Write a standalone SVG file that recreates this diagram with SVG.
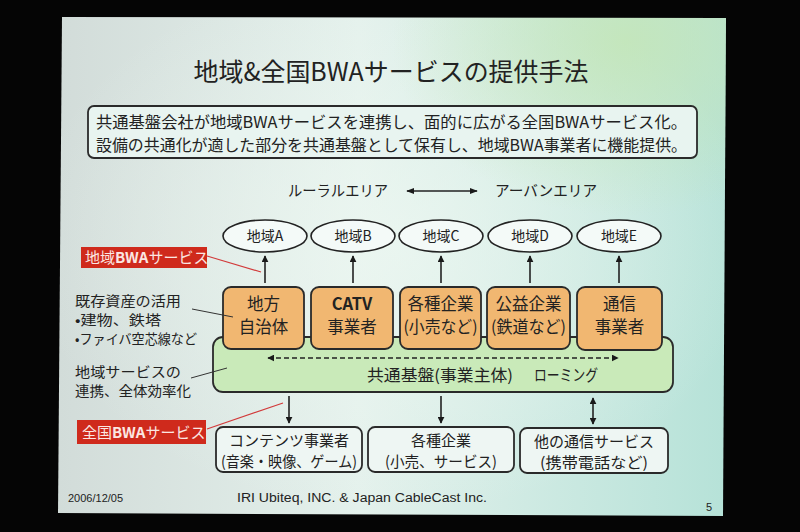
<svg xmlns="http://www.w3.org/2000/svg" width="800" height="532" viewBox="0 0 800 532">
<defs>
<linearGradient id="bg" x1="0" y1="0" x2="1" y2="0">
<stop offset="0" stop-color="#d2dcd9"/>
<stop offset="0.45" stop-color="#e4f1ec"/>
<stop offset="1" stop-color="#b6e2d8"/>
</linearGradient>
<radialGradient id="glow" cx="0.5" cy="0.45" r="0.55">
<stop offset="0" stop-color="#eef8f2" stop-opacity="0.7"/>
<stop offset="1" stop-color="#eef8f2" stop-opacity="0"/>
</radialGradient>
<radialGradient id="tr" cx="0.85" cy="0.05" r="0.35">
<stop offset="0" stop-color="#c4e6b4" stop-opacity="0.8"/>
<stop offset="1" stop-color="#c4e6b4" stop-opacity="0"/>
</radialGradient>
<marker id="ah" viewBox="0 0 10 10" refX="9" refY="5" markerWidth="7" markerHeight="7" orient="auto-start-reverse" markerUnits="userSpaceOnUse">
<path d="M0,0 L10,5 L0,10 z" fill="#1a1a1a"/>
</marker>
<marker id="ahs" viewBox="0 0 10 10" refX="9" refY="5" markerWidth="8" markerHeight="8" orient="auto-start-reverse" markerUnits="userSpaceOnUse">
<path d="M0,1 L10,5 L0,9 z" fill="#1a1a1a"/>
</marker>
<style>
text{font-family:"Noto Sans CJK JP","Noto Sans",sans-serif;fill:#222;}
.c{text-anchor:middle;}
.box{stroke:#2a2a2a;stroke-width:1.8;}
.org{fill:#f1b771;}
.wht{fill:#eef6f3;}
.ell{fill:#f4faf8;stroke:#222;stroke-width:1.6;}
.red{fill:#cf2a1c;}
.rt{fill:#fbe6e2;font-size:15px;}
.ln{stroke:#222;stroke-width:1.6;fill:none;}
.pl{stroke:#333;stroke-width:1;fill:none;}
.rl{stroke:#d23a3a;stroke-width:1.2;fill:none;}
.ot{font-size:16.5px;}
.bt{font-size:15px;}
.lt{font-size:13.5px;}
.ft{font-family:"Liberation Sans",sans-serif;}
</style>
</defs>
<rect width="800" height="532" fill="#050505"/>
<polygon points="62,17 726,18 723,516 58,513" fill="url(#bg)"/>
<polygon points="62,17 726,18 723,516 58,513" fill="url(#glow)"/>
<polygon points="62,17 726,18 723,516 58,513" fill="url(#tr)"/>

<g id="title">
<text x="391" y="81" class="c" font-size="25" textLength="395" lengthAdjust="spacingAndGlyphs">地域&amp;全国BWAサービスの提供手法</text>
</g>

<g id="summary">
<rect x="88" y="106" width="609" height="52" rx="6" class="box" fill="#e8f4f0"/>
<text x="96" y="128" font-size="16" textLength="591" lengthAdjust="spacingAndGlyphs">共通基盤会社が地域BWAサービスを連携し、面的に広がる全国BWAサービス化。</text>
<text x="96" y="151" font-size="16" textLength="591" lengthAdjust="spacingAndGlyphs">設備の共通化が適した部分を共通基盤として保有し、地域BWA事業者に機能提供。</text>
</g>

<g id="area-labels">
<text x="288" y="196" font-size="15" textLength="100" lengthAdjust="spacingAndGlyphs">ルーラルエリア</text>
<text x="495" y="196" font-size="15" textLength="102" lengthAdjust="spacingAndGlyphs">アーバンエリア</text>
</g>

<g id="region-a"><ellipse cx="265" cy="236" rx="42" ry="16" class="ell"/><text x="265" y="241" class="c" font-size="14">地域A</text></g>
<g id="region-b"><ellipse cx="353" cy="236" rx="42" ry="16" class="ell"/><text x="353" y="241" class="c" font-size="14">地域B</text></g>
<g id="region-c"><ellipse cx="441" cy="236" rx="42" ry="16" class="ell"/><text x="441" y="241" class="c" font-size="14">地域C</text></g>
<g id="region-d"><ellipse cx="530" cy="236" rx="42" ry="16" class="ell"/><text x="530" y="241" class="c" font-size="14">地域D</text></g>
<g id="region-e"><ellipse cx="619" cy="236" rx="42" ry="16" class="ell"/><text x="619" y="241" class="c" font-size="14">地域E</text></g>

<g id="common-platform">
<rect x="213" y="337" width="460" height="55" rx="10" class="box" fill="#c9eab9"/>
<text x="440" y="381" class="c" font-size="16" textLength="146" lengthAdjust="spacingAndGlyphs">共通基盤(事業主体)</text>
<text x="566" y="381" class="c" font-size="16" textLength="64" lengthAdjust="spacingAndGlyphs">ローミング</text>
</g>

<g id="op-local-gov"><rect x="223" y="287" width="81" height="62" rx="8" class="box org"/><text x="263.5" y="310" class="c ot">地方</text><text x="263.5" y="333" class="c ot">自治体</text></g>
<g id="op-catv"><rect x="311" y="287" width="82" height="62" rx="8" class="box org"/><text x="352" y="310" class="c ot" font-weight="bold">CATV</text><text x="352" y="333" class="c ot">事業者</text></g>
<g id="op-enterprise"><rect x="400" y="287" width="81" height="62" rx="8" class="box org"/><text x="440.5" y="310" class="c ot">各種企業</text><text x="440.5" y="333" class="c ot" textLength="74" lengthAdjust="spacingAndGlyphs">(小売など)</text></g>
<g id="op-utility"><rect x="487" y="287" width="83" height="62" rx="8" class="box org"/><text x="528.5" y="310" class="c ot">公益企業</text><text x="528.5" y="333" class="c ot" textLength="75" lengthAdjust="spacingAndGlyphs">(鉄道など)</text></g>
<g id="op-telecom"><rect x="577" y="287" width="85" height="63" rx="8" class="box org"/><text x="619.5" y="310" class="c ot">通信</text><text x="619.5" y="333" class="c ot">事業者</text></g>

<g id="svc-content"><rect x="216" y="427" width="146" height="45" rx="7" class="box wht"/><text x="289" y="446" class="c bt">コンテンツ事業者</text><text x="289" y="467" class="c bt" textLength="136" lengthAdjust="spacingAndGlyphs">(音楽・映像、ゲーム)</text></g>
<g id="svc-enterprise"><rect x="368" y="427" width="146" height="45" rx="7" class="box wht"/><text x="441" y="446" class="c bt">各種企業</text><text x="441" y="467" class="c bt" textLength="112" lengthAdjust="spacingAndGlyphs">(小売、サービス)</text></g>
<g id="svc-telecom"><rect x="520" y="428" width="148" height="45" rx="7" class="box wht"/><text x="594" y="447" class="c bt">他の通信サービス</text><text x="594" y="468" class="c bt" textLength="108" lengthAdjust="spacingAndGlyphs">(携帯電話など)</text></g>

<g id="label-local-bwa">
<rect x="81" y="247" width="126" height="21" class="red"/>
<text x="85" y="263" class="rt">地域<tspan font-weight="bold">BWA</tspan>サービス</text>
</g>
<g id="label-national-bwa">
<rect x="77" y="420" width="129" height="24" class="red"/>
<text x="82" y="438" class="rt">全国<tspan font-weight="bold">BWA</tspan>サービス</text>
</g>

<g id="note-assets">
<text x="75" y="306" class="lt" textLength="106" lengthAdjust="spacingAndGlyphs">既存資産の活用</text>
<text x="75" y="325" class="lt" textLength="86" lengthAdjust="spacingAndGlyphs">•建物、鉄塔</text>
<text x="75" y="344" class="lt" textLength="122" lengthAdjust="spacingAndGlyphs">•ファイバ空芯線など</text>
</g>
<g id="note-efficiency">
<text x="75" y="377" class="lt" textLength="106" lengthAdjust="spacingAndGlyphs">地域サービスの</text>
<text x="75" y="396" class="lt" textLength="116" lengthAdjust="spacingAndGlyphs">連携、全体効率化</text>
</g>

<g id="connectors">
<line x1="407" y1="191" x2="477" y2="191" class="ln" stroke-width="1.4" marker-start="url(#ahs)" marker-end="url(#ahs)"/>
<line x1="265" y1="283" x2="265" y2="256" class="ln" marker-end="url(#ah)"/>
<line x1="353" y1="283" x2="353" y2="256" class="ln" marker-end="url(#ah)"/>
<line x1="441" y1="283" x2="441" y2="256" class="ln" marker-end="url(#ah)"/>
<line x1="530" y1="283" x2="530" y2="256" class="ln" marker-end="url(#ah)"/>
<line x1="619" y1="283" x2="619" y2="256" class="ln" marker-end="url(#ah)"/>
<line x1="268" y1="358" x2="618" y2="358" class="ln" stroke-dasharray="5,3" marker-start="url(#ah)" marker-end="url(#ah)"/>
<line x1="289" y1="396" x2="289" y2="423" class="ln" marker-end="url(#ah)"/>
<line x1="441" y1="396" x2="441" y2="423" class="ln" marker-end="url(#ah)"/>
<line x1="593" y1="398" x2="593" y2="424" class="ln" marker-start="url(#ah)" marker-end="url(#ah)"/>
<line x1="207" y1="256" x2="261" y2="272" class="rl"/>
<line x1="207" y1="429" x2="283" y2="403" class="rl"/>
<line x1="192" y1="309" x2="233" y2="317" class="pl"/>
<line x1="191" y1="378" x2="227" y2="368" class="pl"/>
</g>

<g id="footer">
<text x="68" y="502" font-size="11" class="ft">2006/12/05</text>
<text x="362" y="502" class="c ft" font-size="12" textLength="250" lengthAdjust="spacingAndGlyphs">IRI Ubiteq, INC. &amp; Japan CableCast Inc.</text>
<text x="706" y="511" font-size="11" class="ft">5</text>
</g>
</svg>
